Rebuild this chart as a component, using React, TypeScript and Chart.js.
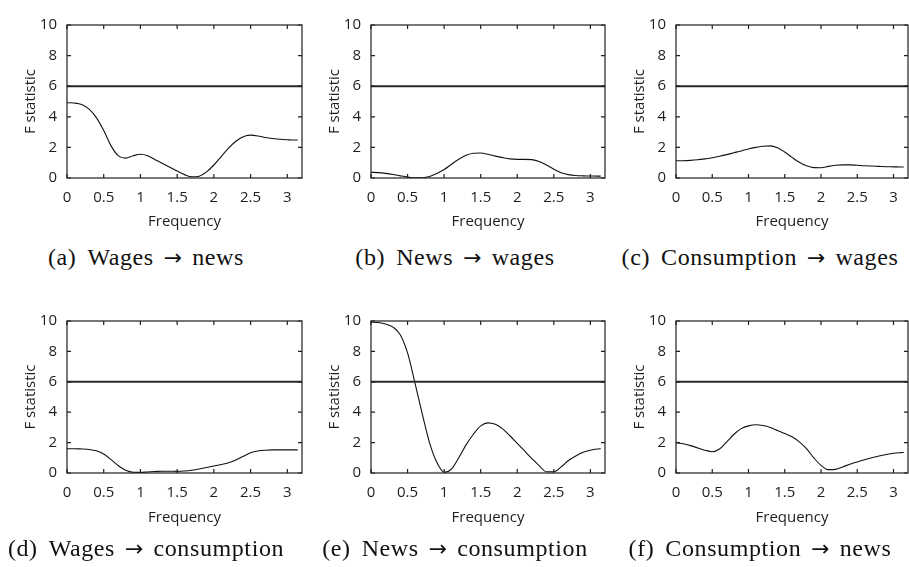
import React, { useEffect, useRef } from "react";
import { Chart, registerables } from "chart.js";
Chart.register(...registerables);

// ---------- data ----------
const freq = [0, 0.1, 0.2, 0.3, 0.4, 0.5, 0.6, 0.7, 0.8, 0.9, 1.0, 1.1, 1.2, 1.3, 1.4, 1.5, 1.6, 1.7, 1.8, 1.9, 2.0, 2.1, 2.2, 2.3, 2.4, 2.5, 2.6, 2.7, 2.8, 2.9, 3.0, 3.1, 3.14159];

const wagesToNews = [4.92, 4.9, 4.8, 4.5, 3.95, 3.1, 2.1, 1.45, 1.3, 1.45, 1.55, 1.45, 1.2, 0.95, 0.7, 0.45, 0.22, 0.08, 0.12, 0.4, 0.85, 1.4, 1.95, 2.4, 2.7, 2.8, 2.75, 2.65, 2.58, 2.53, 2.5, 2.48, 2.48];
const newsToWages = [0.37, 0.35, 0.3, 0.23, 0.14, 0.06, 0.01, 0.02, 0.1, 0.3, 0.55, 0.9, 1.22, 1.48, 1.62, 1.63, 1.55, 1.43, 1.33, 1.25, 1.22, 1.22, 1.2, 1.08, 0.85, 0.57, 0.35, 0.22, 0.16, 0.14, 0.13, 0.12, 0.12];
const consumptionToWages = [1.13, 1.13, 1.15, 1.19, 1.25, 1.32, 1.42, 1.53, 1.65, 1.77, 1.9, 2.0, 2.08, 2.1, 1.98, 1.7, 1.35, 1.03, 0.8, 0.68, 0.67, 0.76, 0.83, 0.86, 0.86, 0.83, 0.8, 0.78, 0.76, 0.74, 0.73, 0.72, 0.72];
const wagesToConsumption = [1.6, 1.6, 1.58, 1.55, 1.46, 1.25, 0.88, 0.48, 0.18, 0.05, 0.04, 0.07, 0.1, 0.12, 0.12, 0.11, 0.13, 0.18, 0.26, 0.36, 0.46, 0.56, 0.68, 0.86, 1.1, 1.33, 1.45, 1.5, 1.52, 1.52, 1.52, 1.52, 1.52];
const newsToConsumption = [9.93, 9.9, 9.8, 9.6, 9.1, 7.9, 5.95, 3.9, 2.0, 0.7, 0.05, 0.25, 1.0, 1.85, 2.55, 3.1, 3.3, 3.2, 2.9, 2.45, 1.95, 1.45, 0.95, 0.48, 0.08, 0.08, 0.4, 0.82, 1.12, 1.36, 1.5, 1.58, 1.6];
const consumptionToNews = [2.0, 1.92, 1.8, 1.65, 1.5, 1.4, 1.58, 2.05, 2.55, 2.92, 3.1, 3.17, 3.12, 3.0, 2.8, 2.6, 2.38, 2.05, 1.6, 1.0, 0.5, 0.22, 0.24, 0.4, 0.58, 0.73, 0.87, 1.0, 1.12, 1.22, 1.3, 1.34, 1.35];

const thresholdLevel = 6;
const xMin = 0;
const xMax = 3.2;
const xStep = 0.5;
const yMin = 0;
const yMax = 10;
const yStep = 2;

const xTitle = "Frequency";
const yTitle = "F statistic";

const captionLabels = ["(a)", "(b)", "(c)", "(d)", "(e)", "(f)"];
const captionFrom = ["Wages", "News", "Consumption", "Wages", "News", "Consumption"];
const captionTo = ["news", "wages", "wages", "consumption", "consumption", "news"];
const seriesList = [wagesToNews, newsToWages, consumptionToWages, wagesToConsumption, newsToConsumption, consumptionToNews];

// ---------- layout ----------
const YW = 62; // y-axis box width
const XH = 62; // x-axis box height
const PT = 10; // top padding
const colLeft = [67, 371, 676];
const colWidth = [235, 234, 232];
const colRightPad = [6, 6, 5];
const rowTop = [16, 312];
const rowHeight = [162, 161];
const rowXTitlePad = [9.5, 8.5];
const captionCenterX = [146, 455, 760];
const captionCenterY = [257, 548];

const INK = "#1e1e1e";
const TICK_FONT = { family: "'Open Sans'", size: 15 };

const framePlugin = {
  id: "frameTicks",
  afterDatasetsDraw(chart: any) {
    const { ctx, chartArea, scales } = chart;
    const { left, top, right, bottom } = chartArea;
    const x = scales.x;
    const y = scales.y;
    ctx.save();
    ctx.strokeStyle = INK;
    ctx.lineWidth = 1.2;
    ctx.strokeRect(left, top, right - left, bottom - top);
    ctx.beginPath();
    const len = 4;
    x.ticks.forEach((t: any) => {
      const px = x.getPixelForValue(t.value);
      ctx.moveTo(px, bottom);
      ctx.lineTo(px, bottom - len);
      ctx.moveTo(px, top);
      ctx.lineTo(px, top + len);
    });
    y.ticks.forEach((t: any) => {
      const py = y.getPixelForValue(t.value);
      ctx.moveTo(left, py);
      ctx.lineTo(left + len, py);
      ctx.moveTo(right, py);
      ctx.lineTo(right - len, py);
    });
    ctx.stroke();
    ctx.restore();
  },
};

function Panel({ idx }: { idx: number }) {
  const ref = useRef<HTMLCanvasElement | null>(null);
  const col = idx % 3;
  const row = Math.floor(idx / 3);
  const cw = YW + colWidth[col] + colRightPad[col];
  const ch = PT + rowHeight[row] + XH;
  const cx = colLeft[col] - YW;
  const cy = rowTop[row] - PT;

  useEffect(() => {
    if (!ref.current) return;
    const vals = seriesList[idx];
    const chart = new Chart(ref.current, {
      type: "line",
      data: {
        datasets: [
          {
            data: [
              { x: xMin, y: thresholdLevel },
              { x: xMax, y: thresholdLevel },
            ],
            borderColor: "#2a2a2a",
            borderWidth: 2,
            pointRadius: 0,
            tension: 0,
          },
          {
            data: freq.map((f, i) => ({ x: f, y: vals[i] })),
            borderColor: "#111",
            borderWidth: 1.1,
            pointRadius: 0,
            cubicInterpolationMode: "monotone",
          },
        ],
      },
      options: {
        animation: false,
        responsive: false,
        devicePixelRatio: 1,
        layout: { padding: { left: 0, top: PT, right: colRightPad[col], bottom: 0 } },
        plugins: { legend: { display: false }, tooltip: { enabled: false } },
        scales: {
          x: {
            type: "linear",
            min: xMin,
            max: xMax,
            grid: { display: false, drawTicks: false },
            border: { display: false },
            ticks: {
              stepSize: xStep,
              includeBounds: false,
              padding: 11,
              maxRotation: 0,
              autoSkip: false,
              color: INK,
              font: TICK_FONT,
              callback: (v: any) => String(Number(v)),
            },
            title: {
              display: true,
              text: xTitle,
              color: INK,
              font: TICK_FONT,
              padding: { top: 0, bottom: rowXTitlePad[row] },
            },
            afterFit: (s: any) => {
              s.height = XH;
            },
          },
          y: {
            type: "linear",
            min: yMin,
            max: yMax,
            grid: { display: false, drawTicks: false },
            border: { display: false },
            ticks: {
              stepSize: yStep,
              padding: 10,
              color: INK,
              font: TICK_FONT,
              callback: (v: any) => String(Number(v)),
            },
            title: {
              display: true,
              text: yTitle,
              color: INK,
              font: TICK_FONT,
              padding: { top: 16.5, bottom: 0 },
            },
            afterFit: (s: any) => {
              s.width = YW;
            },
          },
        },
      },
      plugins: [framePlugin],
    } as any);
    return () => chart.destroy();
  }, [idx]);

  return (
    <canvas
      ref={ref}
      width={cw}
      height={ch}
      style={{ position: "absolute", left: cx, top: cy, width: cw, height: ch }}
    />
  );
}

export default function App() {
  return (
    <div
      style={{
        position: "absolute",
        left: 0,
        top: 0,
        width: 909,
        height: 567,
        overflow: "hidden",
        background: "#fff",
      }}
    >
      {seriesList.map((_, i) => (
        <Panel key={"p" + i} idx={i} />
      ))}
      {captionLabels.map((lab, i) => {
        const col = i % 3;
        const row = Math.floor(i / 3);
        return (
          <div
            key={"c" + i}
            style={{
              position: "absolute",
              left: captionCenterX[col] - 200,
              top: captionCenterY[row] - 14,
              width: 400,
              height: 28,
              lineHeight: "28px",
              textAlign: "center",
              fontFamily: "'Liberation Serif', serif",
              fontSize: 24,
              letterSpacing: "0.6px",
              color: "#111",
              whiteSpace: "nowrap",
            }}
          >
            {lab}
            <span style={{ display: "inline-block", width: 11 }} />
            {captionFrom[i]}
            <span style={{ display: "inline-block", width: 10 }} />
            <span style={{ fontFamily: "'DejaVu Sans'", fontSize: 22, letterSpacing: 0 }}>{"\u2192"}</span>
            <span style={{ display: "inline-block", width: 10 }} />
            {captionTo[i]}
          </div>
        );
      })}
    </div>
  );
}
